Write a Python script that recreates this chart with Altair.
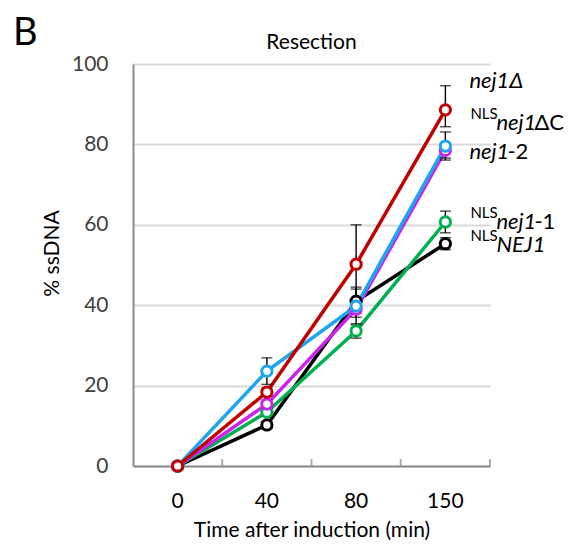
import altair as alt
import pandas as pd

times = ["0", "40", "80", "150"]
series_names = ["NLS-NEJ1", "NLS-nej1-1", "nej1-2", "NLS-nej1dC", "nej1d"]
colors = ["#000000", "#00B050", "#CC22EE", "#1EA5F0", "#C00000"]

v_black = [0, 10.2, 41.0, 55.3]
v_green = [0, 13.4, 33.6, 60.7]
v_magenta = [0, 15.4, 39.0, 78.5]
v_blue = [0, 23.6, 39.8, 79.6]
v_red = [0, 18.4, 50.2, 88.6]

up_black = [0, 0.8, 3.0, 1.5]
up_green = [0, 1.0, 1.8, 2.7]
up_magenta = [0, 1.0, 2.0, 1.9]
up_blue = [0, 3.3, 4.7, 3.5]
up_red = [0, 1.0, 9.8, 6.0]

dn_black = [0, 0.8, 3.0, 1.5]
dn_green = [0, 1.0, 1.8, 2.7]
dn_magenta = [0, 1.0, 2.0, 1.9]
dn_blue = [0, 3.3, 4.7, 3.5]
dn_red = [0, 1.0, 9.8, 4.2]

values = [v_black, v_green, v_magenta, v_blue, v_red]
ups = [up_black, up_green, up_magenta, up_blue, up_red]
dns = [dn_black, dn_green, dn_magenta, dn_blue, dn_red]

# right-hand labels: superscript prefix, italic part, upright suffix, label y (data units)
lab_prefix = ["", "NLS", "", "NLS", "NLS"]
lab_italic = ["nej1Δ", "nej1", "nej1", "nej1", "NEJ1"]
lab_suffix = ["", "ΔC", "-2", "-1", ""]
lab_y = [95.8, 85.3, 78.1, 60.7, 55.0]

rows = []
for name, vals, u, d in zip(series_names, values, ups, dns):
    for t, v, uu, dd in zip(times, vals, u, d):
        rows.append({"series": name, "time": t, "pct": v, "lo": v - dd, "hi": v + uu})
df = pd.DataFrame(rows)

labels = pd.DataFrame({
    "time": ["150"] * 5,
    "prefix": lab_prefix,
    "italic": lab_italic,
    "suffix": lab_suffix,
    "y": lab_y,
})
tick_df = pd.DataFrame({"time": times, "zero": [0] * len(times)})

FONT = "Lato"
GRID = "#D9D9D9"
AX = "#8C8C8C"

xscale = alt.Scale(type="band", domain=times, paddingInner=0, paddingOuter=0)
yscale = alt.Scale(domain=[0, 100])

x_axis = alt.Axis(
    title="Time after induction (min)", labelAngle=0, ticks=False,
    domain=True, domainColor=AX, domainWidth=2,
    labelFontSize=21, labelColor="#000000", labelPadding=24, labelFont=FONT,
    titleFontSize=21, titleFont=FONT, titleFontWeight="normal", titlePadding=8,
    titleColor="#000000", grid=False,
)
y_axis = alt.Axis(
    title="% ssDNA", values=[0, 20, 40, 60, 80, 100], ticks=False,
    domain=True, domainColor=AX, domainWidth=2,
    grid=True, gridColor=GRID, gridWidth=2,
    labelFontSize=21, labelColor="#404040", labelPadding=25, labelFont=FONT,
    titleFontSize=21, titleFont=FONT, titleFontWeight="normal", titlePadding=9,
    titleColor="#000000", titleY=189,
)


def X(bp=0.5):
    return alt.X("time:O", scale=xscale, bandPosition=bp, axis=x_axis)


def Y(field):
    return alt.Y(field, scale=yscale, axis=y_axis)


layers = []
# inward tick marks on the x axis at band boundaries
layers.append(
    alt.Chart(tick_df).mark_tick(color=AX, thickness=2, size=7, orient="vertical", yOffset=-3.5)
    .encode(x=X(1), y=Y("zero:Q"))
)

for name, c in zip(series_names, colors):
    layers.append(
        alt.Chart(df).transform_filter(alt.datum.series == name)
        .mark_line(color=c, strokeWidth=3.5)
        .encode(x=X(), y=Y("pct:Q"))
    )

for name in series_names:
    src = alt.Chart(df).transform_filter(alt.datum.series == name)
    layers.append(src.mark_rule(color="#000000", strokeWidth=1.4).encode(
        x=X(), y=Y("lo:Q"), y2="hi:Q"))
    layers.append(src.mark_tick(color="#000000", thickness=1.4, size=11, orient="horizontal").encode(
        x=X(), y=Y("lo:Q")))
    layers.append(src.mark_tick(color="#000000", thickness=1.4, size=11, orient="horizontal").encode(
        x=X(), y=Y("hi:Q")))

for name, c in zip(series_names, colors):
    layers.append(
        alt.Chart(df).transform_filter(alt.datum.series == name)
        .mark_point(shape="circle", filled=True, fill="white", stroke=c,
                    strokeWidth=3, size=105, opacity=1, fillOpacity=1)
        .encode(x=X(), y=Y("pct:Q"))
    )

layers.append(alt.Chart(labels).mark_text(
    align="left", baseline="middle", fontSize=15, font=FONT, dx=25, dy=-9, color="#000000"
).encode(x=X(), y=Y("y:Q"), text="prefix:N"))
layers.append(alt.Chart(labels).transform_filter(alt.datum.prefix == "").mark_text(
    align="left", baseline="middle", fontSize=22, font=FONT, fontStyle="italic", dx=24, color="#000000"
).encode(x=X(), y=Y("y:Q"), text="italic:N"))
layers.append(alt.Chart(labels).transform_filter(alt.datum.prefix != "").mark_text(
    align="left", baseline="middle", fontSize=22, font=FONT, fontStyle="italic", dx=51, color="#000000"
).encode(x=X(), y=Y("y:Q"), text="italic:N"))
layers.append(alt.Chart(labels).transform_filter(
    (alt.datum.prefix != "") & (alt.datum.suffix != "")).mark_text(
    align="left", baseline="middle", fontSize=22, font=FONT, dx=89, color="#000000"
).encode(x=X(), y=Y("y:Q"), text="suffix:N"))
layers.append(alt.Chart(labels).transform_filter(
    (alt.datum.prefix == "") & (alt.datum.suffix != "")).mark_text(
    align="left", baseline="middle", fontSize=22, font=FONT, dx=62, color="#000000"
).encode(x=X(), y=Y("y:Q"), text="suffix:N"))

# panel letter and panel title
layers.append(alt.Chart(labels.head(1)).mark_text(
    text="B", align="left", baseline="middle", fontSize=38, font=FONT, color="#000000"
).encode(x=alt.value(-120), y=alt.value(-30)))
layers.append(alt.Chart(labels.head(1)).mark_text(
    text="Resection", align="center", baseline="middle", fontSize=21, font=FONT, color="#000000"
).encode(x=alt.value(178.5), y=alt.value(-21)))

chart = alt.layer(*layers).properties(
    width=357, height=402,
    autosize=alt.AutoSizeParams(type="none"),
    padding={"left": 125, "top": 56, "right": 78, "bottom": 75},
    background="white",
).configure_view(stroke=None)

chart.save("out.html", embed_options={"renderer": "svg", "actions": False})
